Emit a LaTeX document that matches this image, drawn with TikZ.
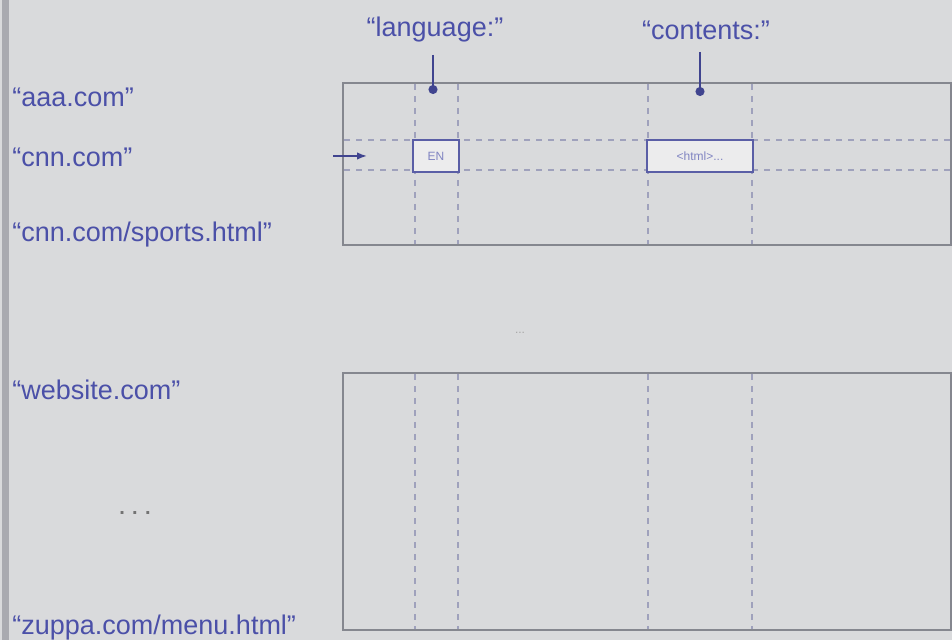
\documentclass[tikz,border=0pt]{standalone}
\usepackage{fontspec}
\setmainfont{Liberation Sans}
\usetikzlibrary{arrows.meta, positioning}
\definecolor{SlideGray}{HTML}{D9DADC}
\definecolor{EdgeGray}{HTML}{A9AAB0}
\definecolor{KeyBlue}{HTML}{4B50A8}
\definecolor{FrameGray}{HTML}{85878F}
\definecolor{GridBlue}{HTML}{9FA1BC}
\definecolor{CellBlue}{HTML}{5A5EA6}

\begin{document}
\begin{tikzpicture}[
  x=0.5pt, y=-0.5pt,
  every node/.style = {font=\fontsize{13.5}{16}\selectfont},
  rowkey/.style = {anchor=west, text=KeyBlue, inner sep=0pt},
  colkey/.style = {text=KeyBlue, inner sep=0pt},
  frame/.style  = {draw=FrameGray, line width=1.1pt},
  grid/.style   = {draw=GridBlue, dash pattern=on 3pt off 3pt, line width=0.6pt},
  cell/.style   = {draw=CellBlue, line width=1.4pt, fill=SlideGray!50!white,
                   inner sep=0pt, minimum height=16pt,
                   font=\fontsize{6}{7}\selectfont, text=KeyBlue!70},
  arr/.style    = {-{Circle[length=4.5pt]}, KeyBlue!85!black, line width=0.8pt},
  dots/.style   = {text=black!55, inner sep=0pt},
]

% slide background
\useasboundingbox (0,0) rectangle (952,640);
\fill[SlideGray] (0,0) rectangle (952,640);
\fill[EdgeGray] (2,0) rectangle (9,640);

% Row keys
\node[rowkey] (aaa)    at (12,97)  {“aaa.com”};
\node[rowkey] (cnn)    at (12,157) {“cnn.com”};
\node[rowkey] (sports) at (12,235) {“cnn.com/sports.html”};
\node[rowkey] (web)    at (12,390) {“website.com”};
\node[dots]   (more)   at (135,513) {\fontsize{10}{10}\selectfont\textbf{. . .}};
\node[rowkey] (zuppa)  at (12,628) {“zuppa.com/menu.html”};

% Column keys
\node[colkey] (lang) at (435,30) {“language:”};
\node[colkey] (cont) at (706,30) {“contents:”};

% Tablets
\draw[frame] (343,83) rectangle (951,245);
\draw[frame] (343,373) rectangle (951,630);
\node[dots, font=\fontsize{6}{6}\selectfont, text=black!35] (gap) at (520,333) {...};

% Column family lines
\foreach \x in {415,458,648,752} {
  \draw[grid] (\x,84) -- (\x,244);
  \draw[grid] (\x,374) -- (\x,629);
}
\draw[grid] (344,140) -- (951,140);
\draw[grid] (344,170) -- (951,170);

% Cells
\node[cell, minimum width=23pt] (en)   at (436,156) {EN};
\node[cell, minimum width=53pt] (html) at (700,156) {<html>...};

% Arrows
\coordinate (rowin)  at (333,156);
\coordinate (rowhit) at (367,156);
\coordinate (langhit) at (433,94);
\coordinate (conthit) at (700,96);
\draw[arr] (lang.south) ++(-2,12) -- (langhit);
\draw[arr] (cont.south) ++(-6,12) -- (conthit);
\draw[-{Latex[length=5pt]}, KeyBlue!85!black, line width=0.8pt] (rowin) -- (rowhit);

\end{tikzpicture}
\end{document}
